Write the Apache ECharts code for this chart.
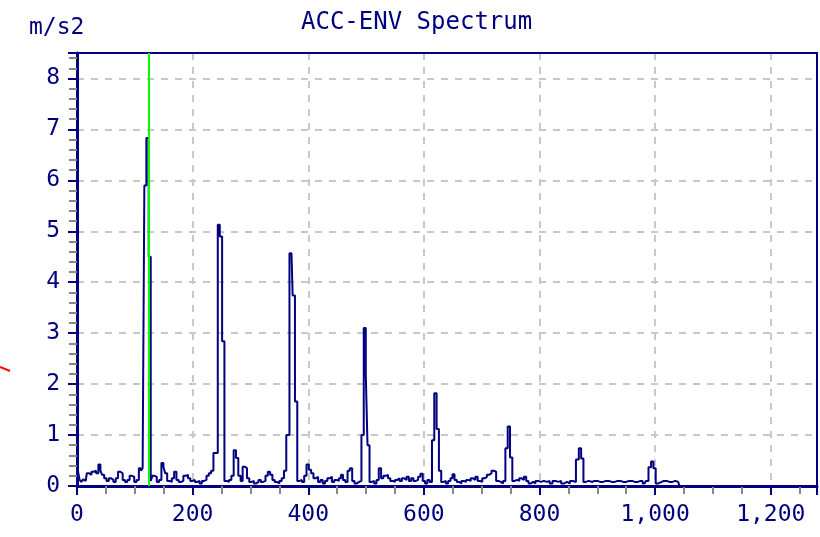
<!DOCTYPE html>
<html>
<head>
<meta charset="utf-8">
<script src="https://cdn.jsdelivr.net/npm/echarts@6/dist/echarts.min.js"></script>
<style>
  html, body { margin: 0; padding: 0; background: #fff; }
  #chart { width: 820px; height: 537px; }
</style>
</head>
<body>
<div id="chart"></div>
<script>
// spectrum: frequency (x) and amplitude in m/s2
var freqs = [
  0, 3, 6, 9, 12, 15, 19, 23, 27, 31, 35, 39, 42, 45, 49, 53, 57, 61, 65, 69,
  73, 77, 81, 85, 89, 93, 97, 101, 105, 109, 112, 115, 118, 122, 126, 129, 132, 136, 140, 144,
  148, 151, 154, 158, 162, 166, 170, 174, 178, 182, 186, 190, 194, 198, 202, 206, 210, 214, 218, 222,
  226, 230, 234, 238, 242, 245, 249, 253, 257, 261, 265, 269, 273, 277, 281, 285, 288, 292, 296, 300,
  304, 308, 312, 316, 320, 324, 328, 332, 336, 340, 344, 348, 352, 356, 360, 364, 371, 375, 379, 383,
  387, 391, 395, 399, 403, 407, 411, 415, 419, 423, 427, 431, 435, 439, 443, 447, 451, 455, 458, 462,
  466, 470, 474, 478, 482, 486, 490, 494, 498, 501, 504, 508, 512, 516, 520, 524, 528, 532, 536, 540,
  544, 548, 552, 556, 560, 564, 568, 572, 576, 580, 584, 588, 592, 596, 600, 604, 608, 612, 616, 620,
  624, 628, 632, 636, 640, 644, 648, 651, 655, 659, 663, 667, 671, 675, 679, 683, 687, 691, 695, 699,
  703, 707, 711, 715, 719, 723, 727, 731, 735, 739, 743, 747, 751, 755, 759, 763, 767, 771, 775, 779,
  783, 787, 791, 795, 800, 805, 810, 815, 820, 825, 830, 835, 840, 845, 850, 855, 860, 866, 870, 874,
  878, 882, 888, 895, 905, 915, 925, 935, 945, 955, 965, 975, 982, 986, 991, 995, 999, 1003, 1008, 1015,
  1025, 1035, 1040, 1044, 1280
];
var amps = [
  0.25, 0.3, 0.12, 0.08, 0.13, 0.1, 0.25, 0.22, 0.28, 0.3, 0.25, 0.42, 0.3, 0.22, 0.15, 0.1, 0.15, 0.12, 0.08, 0.15,
  0.28, 0.25, 0.12, 0.08, 0.12, 0.2, 0.18, 0.08, 0.12, 0.35, 0.3, 0.35, 5.9, 6.83, 4.5, 0.1, 0.2, 0.18, 0.08, 0.12,
  0.45, 0.38, 0.25, 0.1, 0.08, 0.15, 0.28, 0.12, 0.08, 0.1, 0.2, 0.22, 0.15, 0.1, 0.12, 0.08, 0.1, 0.05, 0.1, 0.12,
  0.2, 0.25, 0.3, 0.65, 0.65, 5.13, 4.9, 2.84, 0.1, 0.08, 0.12, 0.2, 0.7, 0.55, 0.2, 0.1, 0.38, 0.35, 0.15, 0.08,
  0.1, 0.05, 0.08, 0.12, 0.08, 0.1, 0.2, 0.28, 0.22, 0.12, 0.08, 0.05, 0.1, 0.15, 0.3, 1.0, 4.57, 3.74, 1.66, 0.1,
  0.12, 0.08, 0.2, 0.42, 0.32, 0.25, 0.15, 0.18, 0.08, 0.12, 0.05, 0.1, 0.15, 0.18, 0.08, 0.12, 0.1, 0.15, 0.22, 0.12,
  0.08, 0.3, 0.35, 0.1, 0.05, 0.08, 0.1, 1.0, 3.1, 2.2, 0.8, 0.08, 0.1, 0.05, 0.12, 0.35, 0.15, 0.2, 0.22, 0.15,
  0.1, 0.08, 0.12, 0.15, 0.1, 0.15, 0.12, 0.18, 0.1, 0.15, 0.1, 0.12, 0.18, 0.24, 0.1, 0.05, 0.12, 0.08, 0.9, 1.82,
  1.12, 0.3, 0.08, 0.1, 0.05, 0.1, 0.15, 0.23, 0.12, 0.08, 0.05, 0.1, 0.08, 0.12, 0.1, 0.15, 0.12, 0.18, 0.1, 0.08,
  0.15, 0.18, 0.22, 0.25, 0.3, 0.28, 0.1, 0.08, 0.05, 0.1, 0.74, 1.17, 0.56, 0.1, 0.12, 0.1, 0.15, 0.12, 0.18, 0.1,
  0.05, 0.08, 0.05, 0.1, 0.08, 0.1, 0.08, 0.1, 0.05, 0.1, 0.08, 0.1, 0.05, 0.08, 0.05, 0.1, 0.08, 0.52, 0.74, 0.54,
  0.08, 0.1, 0.08, 0.1, 0.08, 0.1, 0.08, 0.1, 0.08, 0.1, 0.08, 0.1, 0.05, 0.1, 0.37, 0.48, 0.35, 0.05, 0.08, 0.1,
  0.08, 0.1, 0.08, 0, 0
];
var cursorFreq = 124.8;
var xTicks = [0, 200, 400, 600, 800, 1000, 1200];
var yTicks = [0, 1, 2, 3, 4, 5, 6, 7, 8];

var navy = '#000080';
var font = '"DejaVu Sans Mono", "Liberation Mono", monospace';

var chart = echarts.init(document.getElementById('chart'));

var points = freqs.map(function (f, i) { return [f, amps[i]]; });

// plain axis used only to draw the frame on the top and right sides
function frameAxis(pos, extra) {
  return Object.assign({
    type: 'value', position: pos, min: 0,
    axisLine: { show: true, onZero: false, lineStyle: { color: navy, width: 2 } },
    axisTick: { show: false }, axisLabel: { show: false }, splitLine: { show: false }
  }, extra);
}

chart.setOption({
  animation: false,
  backgroundColor: '#fff',
  title: [
    { text: 'ACC-ENV Spectrum', left: 296, top: 6,
      textStyle: { fontFamily: font, fontSize: 24, fontWeight: 'normal', color: navy } },
    { text: 'm/s2', left: 24, top: 12,
      textStyle: { fontFamily: font, fontSize: 23, fontWeight: 'normal', color: navy } }
  ],
  grid: { left: 77, right: 3, top: 53, bottom: 51 },
  xAxis: [{
    type: 'value', min: 0, max: 1280, interval: 200,
    axisLine: { lineStyle: { color: navy, width: 3 } },
    axisTick: { length: 9, lineStyle: { color: navy, width: 2 } },
    minorTick: { show: true, splitNumber: 4, length: 8, lineStyle: { color: '#888', width: 2 } },
    splitLine: { show: true, lineStyle: { color: '#c8c8c8', width: 2, type: [7, 7] } },
    axisLabel: {
      margin: 18, fontFamily: font, fontSize: 23, color: navy, showMaxLabel: true,
      formatter: function (v) { return xTicks.indexOf(v) >= 0 ? v.toLocaleString('en-US') : ''; }
    }
  }, frameAxis('top', { max: 1280 })],
  yAxis: [{
    type: 'value', min: 0, max: 8.5, interval: 1,
    axisLine: { lineStyle: { color: navy, width: 3 } },
    axisTick: { length: 9, lineStyle: { color: navy, width: 2 } },
    minorTick: { show: true, splitNumber: 5, length: 8, lineStyle: { color: '#888', width: 2 } },
    splitLine: { show: true, lineStyle: { color: '#c8c8c8', width: 2, type: [7, 7] } },
    axisLabel: {
      margin: 17, fontFamily: font, fontSize: 23, color: navy,
      formatter: function (v) { return yTicks.indexOf(v) >= 0 ? String(v) : ''; }
    }
  }, frameAxis('right', { max: 8.5 })],
  series: [{
    type: 'line',
    data: points,
    step: 'middle',
    symbol: 'none',
    lineStyle: { color: navy, width: 2 },
    markLine: {
      silent: true,
      symbol: 'none',
      label: { show: false },
      lineStyle: { color: '#00ff00', width: 2, type: 'solid' },
      data: [{ xAxis: cursorFreq }]
    }
  }],
  graphic: [{
    type: 'line',
    shape: { x1: 0, y1: 367, x2: 10, y2: 371 },
    style: { stroke: '#ff0000', lineWidth: 2 }
  }]
});
</script>
</body>
</html>
